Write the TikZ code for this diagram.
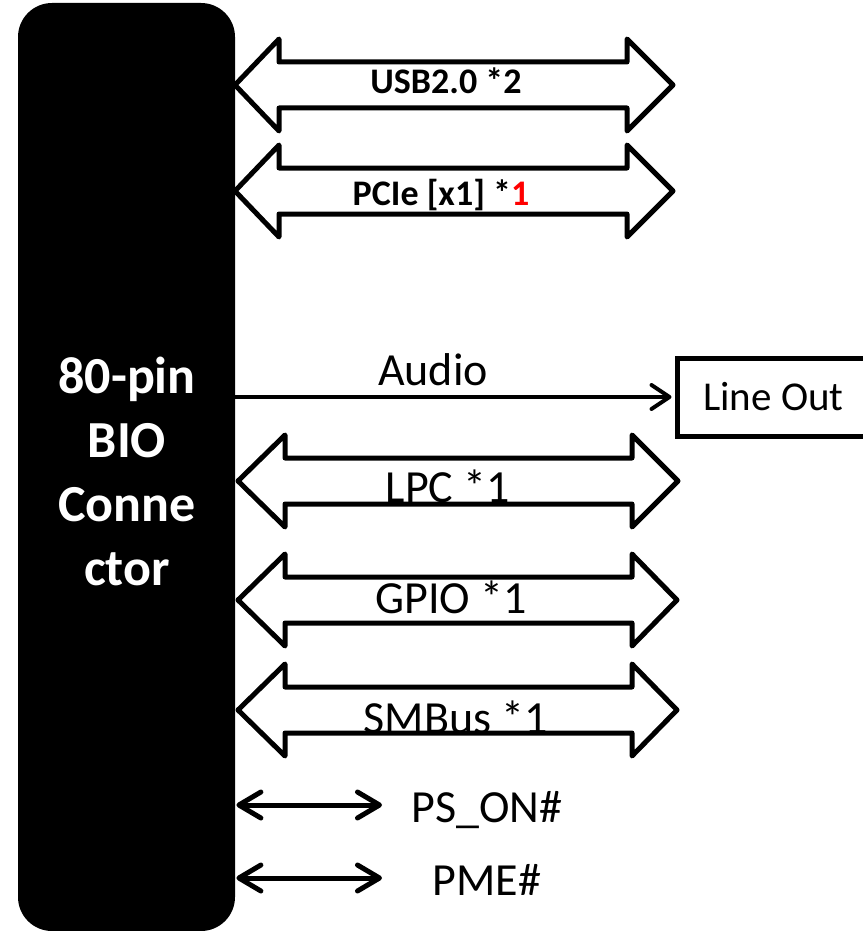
\documentclass[tikz,border=0pt]{standalone}
\usepackage{fontspec}
\setmainfont{Carlito}
\usetikzlibrary{arrows.meta}
\tikzset{
  bus/.style={draw=black, line width=2.5pt, line join=round, fill=white},
  lbl/.style={anchor=base, inner sep=0pt, font=\fontsize{23}{27}\selectfont},
  blbl/.style={anchor=base, inner sep=0pt, font=\bfseries\fontsize{18}{22}\selectfont},
  sig/.style={line width=2.5pt, line cap=round,
    {Straight Barb[length=11pt,width=13pt,line cap=round,line join=round]}-{Straight Barb[length=11pt,width=13pt,line cap=round,line join=round]}},
  audio/.style={line width=2pt, line cap=round,
    -{Straight Barb[length=9pt,width=12pt,line cap=round,line join=round]}},
  biobox/.style={fill=black, rounded corners=17pt, minimum width=108.5pt, minimum height=464pt, inner sep=0pt},
  biotext/.style={text=white, align=center, font=\bfseries\fontsize{26}{32}\selectfont, inner sep=0pt},
  outbox/.style={draw=black, line width=2.5pt, fill=white, minimum width=96.5pt, minimum height=39pt, inner sep=0pt, font=\fontsize{20.5}{24}\selectfont}
}
\newcommand\busarrow[5]{%
  \draw[bus] (#1,#5) -- (#2,#5-46) -- (#2,#5-23) -- (#3,#5-23) -- (#3,#5-46) -- (#4,#5)
    -- (#3,#5+46) -- (#3,#5+23) -- (#2,#5+23) -- (#2,#5+46) -- cycle;}
\begin{document}
\begin{tikzpicture}[x=0.5pt,y=-0.5pt]
\useasboundingbox (0,0) rectangle (862,931);
% connector block
\node[biobox] (bio) at (126.5,467) {};
\node[biotext] (biotxt) at (127,471) {80-pin\\BIO\\Conne\\ctor};
% bus arrows
\busarrow{235}{279}{627}{673}{85}
\busarrow{235}{279}{627}{673}{191}
\busarrow{238}{285}{632}{678}{481}
\busarrow{238}{285}{632}{677}{600}
\busarrow{238}{285}{632}{677}{710}
\node[blbl] (usb) at (446,94) {USB2.0 *2};
\node[blbl] (pcie) at (441,205) {PCIe [x1] *\textcolor{red}{1}};
\node[lbl] (lpc) at (448,502) {LPC *1};
\node[lbl] (gpio) at (451,613) {GPIO *1};
\node[lbl] (smbus) at (456,733) {SMBus *1};
% audio
\node[outbox] (lineout) at (773.5,397) {Line Out};
\draw[audio] (bio.east |- lineout.west) -- ([xshift=-1.5pt]lineout.west);
\node[lbl] (audiotxt) at (433,385) {Audio};
% single signals
\coordinate (pson) at (382,805);
\coordinate (pme) at (382,878);
\draw[sig] ([xshift=0.5pt]bio.east |- pson) -- (pson);
\draw[sig] ([xshift=0.5pt]bio.east |- pme) -- (pme);
\node[lbl] (psontxt) at (487,822) {PS\_ON\#};
\node[lbl] (pmetxt) at (487,895) {PME\#};
\end{tikzpicture}
\end{document}
